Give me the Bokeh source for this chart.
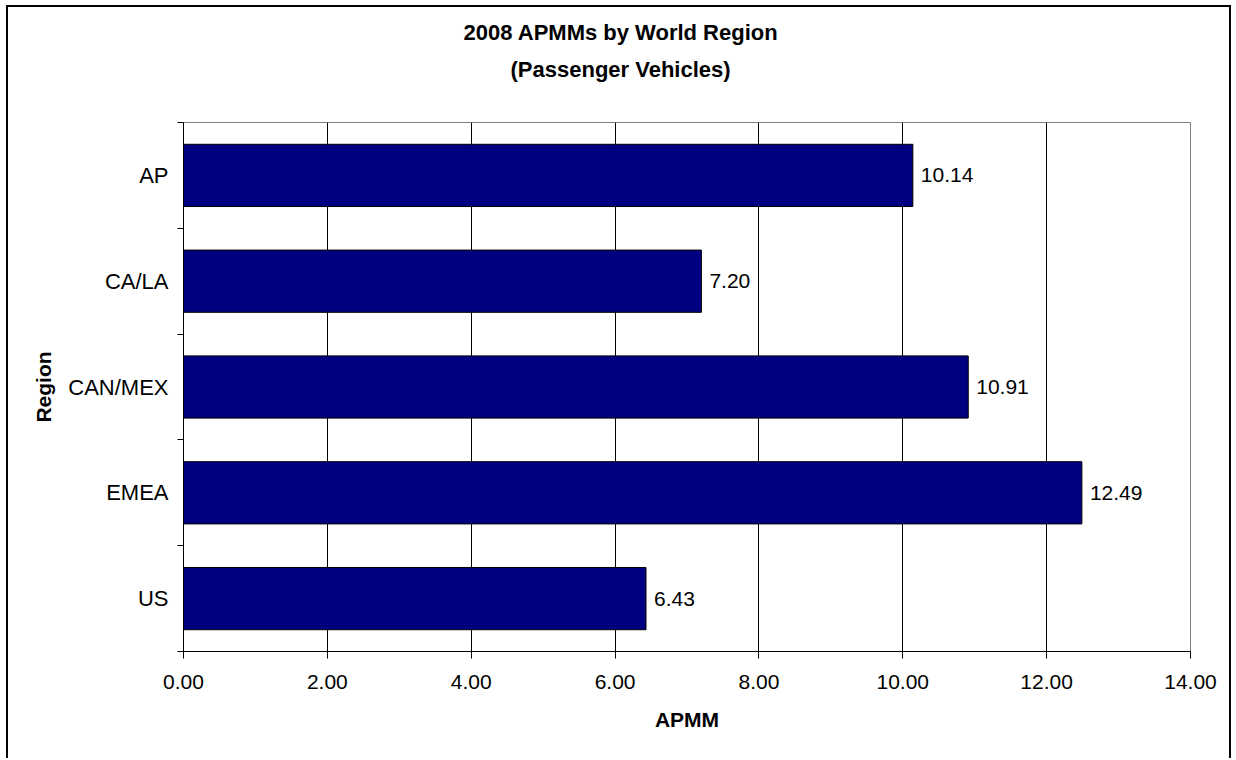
from bokeh.plotting import figure
from bokeh.models import Range1d, FixedTicker, NumeralTickFormatter, ColumnDataSource, Title
from bokeh.core.properties import value
from bokeh.embed import file_html
from bokeh.resources import INLINE

regions = ["AP", "CA/LA", "CAN/MEX", "EMEA", "US"]
apmm = [10.14, 7.20, 10.91, 12.49, 6.43]
x_ticks = [0, 2, 4, 6, 8, 10, 12, 14]
title_lines = ["2008 APMMs by World Region", "(Passenger Vehicles)"]

n = len(regions)
ypos = [n - i - 0.5 for i in range(n)]
src = ColumnDataSource(dict(y=ypos, v=apmm, lbl=["%.2f" % v for v in apmm]))

FONT = "Liberation Sans"

p = figure(width=1225, height=753, output_backend="svg", toolbar_location=None,
           x_range=Range1d(0, 14), y_range=Range1d(0, n),
           min_border_left=175, min_border_right=43, min_border_top=115, min_border_bottom=109)
p.margin = (5, 0, 0, 6)
p.styles = {"border-left": "2px solid black", "border-top": "2px solid black",
            "border-right": "2px solid black"}
p.outline_line_color = "#808080"
p.outline_line_width = 1
p.background_fill_color = "white"
p.border_fill_color = "white"

p.hbar(y="y", left=0, right="v", height=1/1.7, source=src,
       fill_color="#000080", line_color="black", line_width=1)
p.text(x="v", y="y", text="lbl", source=src, x_offset=8, text_baseline="middle",
       text_align="left", text_font=value(FONT), text_font_size="21px", text_color="black")

# x axis
xa = p.xaxis[0]
xa.ticker = FixedTicker(ticks=x_ticks)
xa.formatter = NumeralTickFormatter(format="0.00")
xa.major_tick_out = 7
xa.major_tick_in = 0
xa.minor_tick_out = 0
xa.minor_tick_in = 0
xa.axis_line_color = "black"
xa.major_tick_line_color = "black"
xa.major_label_text_font = FONT
xa.major_label_text_font_size = "21px"
xa.major_label_text_color = "black"
xa.major_label_standoff = 16
xa.axis_label = "APMM"
xa.axis_label_text_font = FONT
xa.axis_label_text_font_size = "21px"
xa.axis_label_text_font_style = "bold"
xa.axis_label_text_color = "black"
xa.axis_label_standoff = 16

# y axis
ya = p.yaxis[0]
ya.ticker = FixedTicker(ticks=ypos, minor_ticks=list(range(n + 1)))
ya.major_label_overrides = {y: r for y, r in zip(ypos, regions)}
ya.major_tick_out = 0
ya.major_tick_in = 0
ya.minor_tick_out = 6
ya.minor_tick_in = 0
ya.minor_tick_line_color = "black"
ya.axis_line_color = "black"
ya.major_label_text_font = FONT
ya.major_label_text_font_size = "22px"
ya.major_label_text_color = "black"
ya.major_label_standoff = 9
ya.axis_label = "Region"
ya.axis_label_text_font = FONT
ya.axis_label_text_font_size = "21px"
ya.axis_label_text_font_style = "bold"
ya.axis_label_text_color = "black"
ya.axis_label_standoff = 10

p.xgrid.grid_line_color = "black"
p.xgrid.grid_line_width = 1
p.ygrid.grid_line_color = None

p.title = None
p.add_layout(Title(text=title_lines[1], align="left", offset=327, standoff=82,
                   text_font=FONT, text_font_size="22px", text_font_style="bold",
                   text_color="black"), "above")
p.add_layout(Title(text=title_lines[0], align="left", offset=280, standoff=-62,
                   text_font=FONT, text_font_size="22px", text_font_style="bold",
                   text_color="black"), "above")

open("out.html", "w").write(file_html(p, INLINE))
